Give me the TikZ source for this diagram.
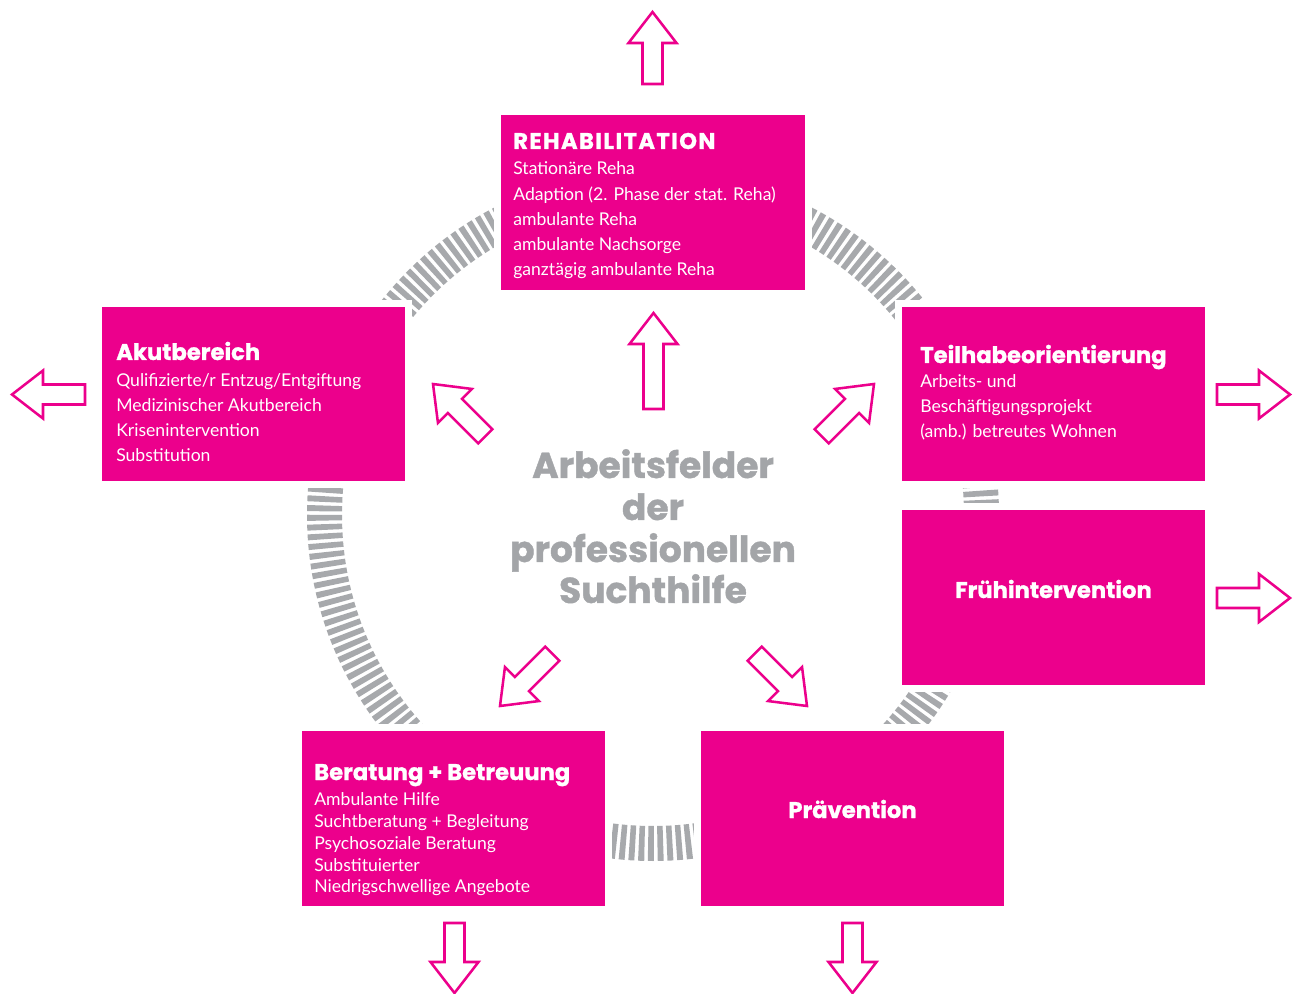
\documentclass[tikz,border=0pt]{standalone}
\usepackage{fontspec}
\setmainfont{Lato}
\newfontfamily\headfont{Poppins}[BoldFeatures={FakeBold=1.1}]
\definecolor{mag}{HTML}{EC008C}
\definecolor{ringgray}{HTML}{A7A9AC}
\definecolor{ctext}{HTML}{A3A5A8}
\tikzset{
  box/.style={fill=mag, preaction={draw=white, line width=10.5pt}},
  head/.style={anchor=base west, inner sep=0pt, text=white, font=\headfont\bfseries\fontsize{17}{20}\selectfont},
  body/.style={anchor=base west, inner sep=0pt, text=white, font=\fontsize{13.2}{16}\selectfont},
  ctitle/.style={anchor=base, inner sep=0pt, text=ctext, font=\headfont\bfseries\fontsize{27}{32}\selectfont},
  arrowline/.style={draw=mag, fill=white, line width=1.9pt, line join=miter},
  pics/barrow/.style={code={\path[arrowline] (0,0) -- (24,31) -- (10,31) -- (10,#1) -- (-10,#1) -- (-10,31) -- (-24,31) -- cycle;}}
}
\begin{document}
\begin{tikzpicture}[x=0.75pt,y=-0.75pt]
\useasboundingbox (0,0) rectangle (1293,994);
% hatched ring
\draw[ringgray, line width=26.25pt, dash pattern=on 4.3pt off 2.673pt] (653,515) circle[radius=246.375pt];
% boxes
\path[box] (501,115) rectangle (805,290);
\path[box] (102,307) rectangle (405,481);
\path[box] (902,307) rectangle (1205,481);
\path[box] (902,510) rectangle (1205,685);
\path[box] (302,731) rectangle (605,906);
\path[box] (701,731) rectangle (1004,906);
% Rehabilitation
\node[head] (rh) at (513,149) {\addfontfeatures{LetterSpace=6}REHABILITATION};
\node[body] (rh1) at (513,175) {Stationäre Reha};
\node[body] (rh2) at (513,200.5) {Adaption (2. Phase der stat. Reha)};
\node[body] (rh3) at (513,225.5) {ambulante Reha};
\node[body] (rh4) at (513,250.5) {ambulante Nachsorge};
\node[body] (rh5) at (513,276) {ganztägig ambulante Reha};
% Akutbereich
\node[head] (ak) at (116,360) {Akutbereich};
\node[body] (ak1) at (116,387) {Qulifizierte/r Entzug/Entgiftung};
\node[body] (ak2) at (116,412) {Medizinischer Akutbereich};
\node[body] (ak3) at (116,437) {Krisenintervention};
\node[body] (ak4) at (116,462) {Substitution};
% Teilhabe
\node[head] (th) at (920,363) {Teilhabeorientierung};
\node[body] (th1) at (920,388) {Arbeits- und};
\node[body] (th2) at (920,413) {Beschäftigungsprojekt};
\node[body] (th3) at (920,438) {(amb.) betreutes Wohnen};
% Fruehintervention
\node[head, anchor=base] (fi) at (1053.5,598) {Frühintervention};
% Praevention
\node[head, anchor=base] (pv) at (852.5,818) {Prävention};
% Beratung
\node[head] (bb) at (314,780) {Beratung + Betreuung};
\node[body] (bb1) at (314,805) {Ambulante Hilfe};
\node[body] (bb2) at (314,827) {Suchtberatung + Begleitung};
\node[body] (bb3) at (314,849) {Psychosoziale Beratung};
\node[body] (bb4) at (314,871) {Substituierter};
\node[body] (bb5) at (314,892.5) {Niedrigschwellige Angebote};
% centre title
\node[ctitle] (c1) at (653,478) {Arbeitsfelder};
\node[ctitle] (c2) at (653,520) {der};
\node[ctitle] (c3) at (653,562) {professionellen};
\node[ctitle] (c4) at (653,603) {Suchthilfe};
% arrows
\pic at (652.5,12) {barrow=72};
\pic at (653.5,313) {barrow=96};
\pic[rotate=90] at (12,394.5) {barrow=73};
\pic[rotate=-90] at (1290,394.5) {barrow=73};
\pic[rotate=-90] at (1290,598) {barrow=73};
\pic[rotate=180] at (454.5,993) {barrow=70};
\pic[rotate=180] at (852.5,993) {barrow=70};
\pic[rotate=45] at (433,384) {barrow=74};
\pic[rotate=-45] at (874,384) {barrow=74};
\pic[rotate=135] at (500,706) {barrow=74};
\pic[rotate=-135] at (807,706) {barrow=74};
\end{tikzpicture}
\end{document}
